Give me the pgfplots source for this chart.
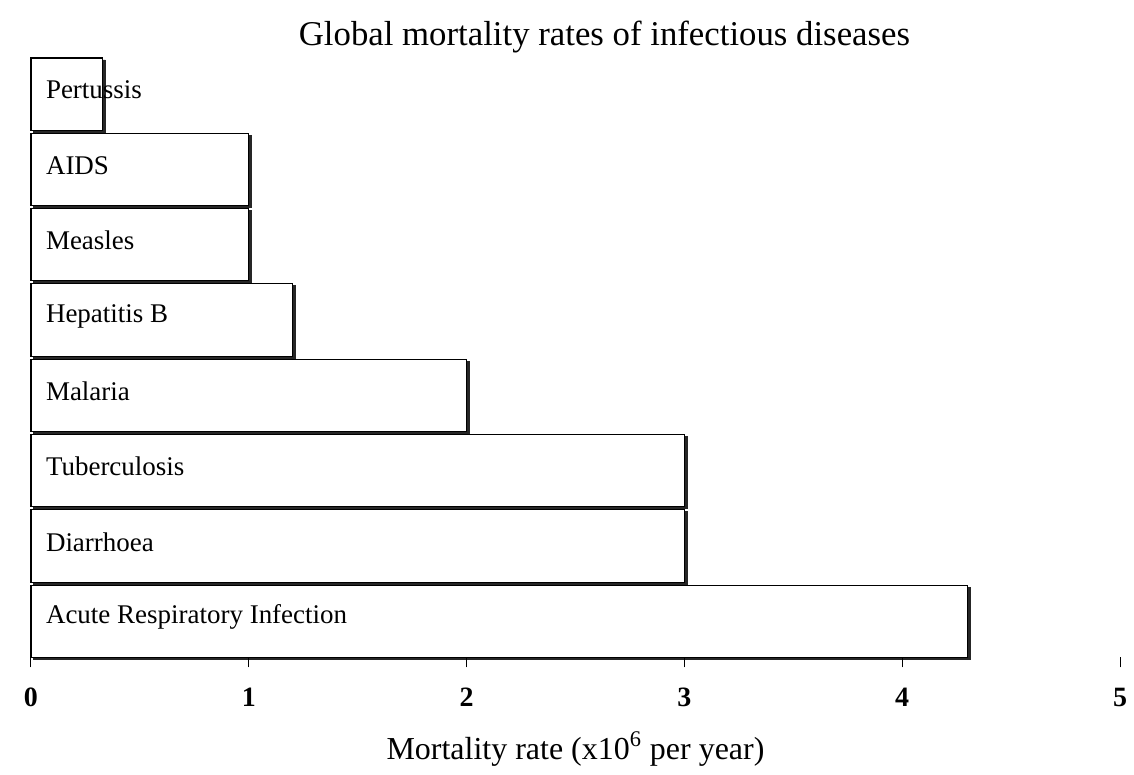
\documentclass[border=0pt]{standalone}
\usepackage{pgfplots}
\pgfplotsset{compat=1.18}
\usepackage{fontspec}
\setmainfont{Liberation Serif}
\begin{document}
\begin{tikzpicture}
\begin{axis}[
  scale only axis,
  width=545pt, height=300pt,
  xmin=0, xmax=5, ymin=-0.48, ymax=7.48,
  xbar, bar width=0.96, bar shift=0pt,
  axis on top,
  axis line style={draw=none},
  xtick={0,1,2,3,4,5},
  xticklabels={0,1,2,3,4,5},
  xtick pos=lower,
  tick align=outside,
  major tick length=5pt,
  x tick style={black, line width=0.5pt},
  xticklabel style={font=\fontsize{14}{16}\selectfont\bfseries, anchor=north, text height=10pt, text depth=0pt, yshift=-6pt},
  ytick={0,1,2,3,4,5,6,7},
  yticklabels={Acute Respiratory Infection, Diarrhoea, Tuberculosis, Malaria, Hepatitis B, Measles, AIDS, Pertussis},
  y tick style={draw=none},
  yticklabel style={anchor=west, xshift=9pt, yshift=2pt, font=\fontsize{13.5}{15}\selectfont},
  xlabel={Mortality rate (x10\textsuperscript{6} per year)},
  xlabel style={font=\fontsize{16}{18}\selectfont, yshift=-6pt},
  title={Global mortality rates of infectious diseases},
  title style={font=\fontsize{17.4}{19}\selectfont, xshift=14.5pt, yshift=-7pt},
  clip=false,
]
\addplot[fill=black!85, draw=black!85, xshift=1.3pt, yshift=-1.0pt] coordinates {
 (4.3,0) (3.0,1) (3.0,2) (2.0,3) (1.2,4) (1.0,5) (1.0,6) (0.33,7)};
\addplot[fill=white, draw=black, line width=0.6pt] coordinates {
 (4.3,0) (3.0,1) (3.0,2) (2.0,3) (1.2,4) (1.0,5) (1.0,6) (0.33,7)};
\end{axis}
\pgfresetboundingbox
\path (current axis.south west) ++(-15.5pt,-58.5pt) coordinate (bl);
\path (current axis.north east) ++(7pt,29pt) coordinate (tr);
\path[use as bounding box] (bl) rectangle (tr);
\end{tikzpicture}
\end{document}
